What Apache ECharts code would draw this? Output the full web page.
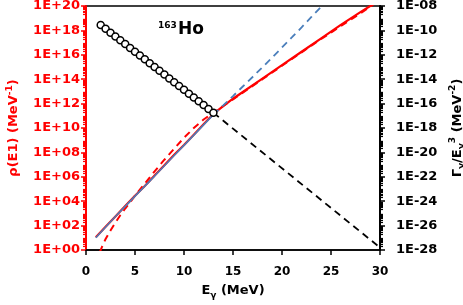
<!DOCTYPE html>
<html><head><meta charset="utf-8">
<script src="https://cdn.jsdelivr.net/npm/echarts@6/dist/echarts.min.js"></script>
<style>html,body{margin:0;padding:0;background:#fff}#c{width:463px;height:305px}</style>
</head><body><div id="c"></div>
<script>
// x: E_gamma (MeV); values are log10 of the plotted quantity
const redSolidE   = [1, 2, 3, 4, 5, 6, 7, 8, 9, 10, 11, 12, 13, 14, 15, 16, 18, 20, 22, 24, 26, 28, 29.2];
const redSolidLog = [1.05, 1.9, 2.75, 3.6, 4.45, 5.25, 6.1, 6.95, 7.8, 8.6, 9.45, 10.3, 11.15, 11.8, 12.4, 12.95, 14.05, 15.15, 16.25, 17.35, 18.45, 19.5, 20.1];

const blueSolidE   = [1, 2, 3, 4, 5, 6, 7, 8, 9, 10, 11, 12, 13];
const blueSolidLog = [1.0, 1.88, 2.74, 3.58, 4.42, 5.24, 6.06, 6.9, 7.74, 8.58, 9.42, 10.26, 11.1];

const blueDashE   = [13, 14, 15, 16, 17, 18, 19, 20, 21, 22, 23, 24, 25];
const blueDashLog = [11.1, 11.85, 12.62, 13.4, 14.18, 14.98, 15.78, 16.6, 17.42, 18.25, 19.1, 19.95, 20.8];

const redDashE   = [1.4, 1.6, 2, 2.5, 3, 3.5, 4, 4.5, 5, 6, 7, 8, 9, 10, 11, 12, 13, 14, 15, 16, 18, 20, 22, 24, 26, 28, 29, 30];
const redDashLog = [-0.2, 0.2, 0.9, 1.6, 2.25, 2.85, 3.4, 3.9, 4.45, 5.45, 6.45, 7.4, 8.3, 9.2, 10.0, 10.7, 11.25, 11.8, 12.35, 12.9, 14.0, 15.1, 16.2, 17.3, 18.35, 19.4, 19.95, 20.5];

// right axis (Gamma/E^3), log10
const circleE   = [1.5, 2, 2.5, 3, 3.5, 4, 4.5, 5, 5.5, 6, 6.5, 7, 7.5, 8, 8.5, 9, 9.5, 10, 10.5, 11, 11.5, 12, 12.5, 13];
const circleLog = [-9.56, -9.87, -10.19, -10.5, -10.81, -11.12, -11.44, -11.75, -12.06, -12.37, -12.69, -13.0, -13.31, -13.62, -13.94, -14.25, -14.56, -14.87, -15.19, -15.5, -15.81, -16.12, -16.44, -16.75];

const blackDashE   = [13, 30];
const blackDashLog = [-16.75, -27.8];

const xTicks = [0, 5, 10, 15, 20, 25, 30];

const zip = (a, b) => a.map((v, i) => [v, b[i]]);
const FONT = 'DejaVu Sans';
const pad = n => String(Math.round(n)).padStart(2, '0');

function minorTicks(lo, hi) {
  const out = [];
  for (let n = lo; n < hi; n++) for (let k = 2; k <= 9; k++) out.push(n + Math.log10(k));
  return out;
}

const chart = echarts.init(document.getElementById('c'), null, {renderer: 'canvas'});
const richBase = (color) => ({
  n: {fontFamily: FONT, fontWeight: 'bold', fontSize: 13, color: color, lineHeight: 18},
  s: {fontFamily: FONT, fontWeight: 'bold', fontSize: 9, color: color, lineHeight: 18, verticalAlign: 'bottom'},
  p: {fontFamily: FONT, fontWeight: 'bold', fontSize: 9, color: color, lineHeight: 18, verticalAlign: 'top'}
});

chart.setOption({
  animation: false,
  backgroundColor: '#fff',
  grid: {left: 86, right: 83, top: 6, bottom: 55, show: true, borderColor: '#000', borderWidth: 1.5,
    containLabel: false, outerBoundsMode: 'none'},
  xAxis: {
    type: 'value', min: 0, max: 30, interval: 5,
    axisLine: {lineStyle: {color: '#000', width: 1.5}},
    axisTick: {show: true, length: 5, lineStyle: {color: '#000', width: 1.5}, customValues: xTicks},
    splitLine: {show: false},
    axisLabel: {color: '#000', fontFamily: FONT, fontWeight: 'bold', fontSize: 12, margin: 16, customValues: xTicks},
    name: '{n|E}{s|γ}{n| (MeV)}', nameLocation: 'middle', nameGap: 32,
    nameTextStyle: {rich: richBase('#000')}
  },
  yAxis: [
    {
      type: 'value', min: 0, max: 20, interval: 2, position: 'left',
      axisLine: {show: true, lineStyle: {color: '#ff0000', width: 2}},
      axisTick: {show: true, length: 5, lineStyle: {color: '#ff0000', width: 1.5}},
      splitLine: {show: false},
      axisLabel: {color: '#ff0000', fontFamily: FONT, fontWeight: 'bold', fontSize: 13, margin: 6,
        formatter: v => '1E+' + pad(v)},
      name: '{n|ρ(E1) (MeV}{p|-1}{n|)}', nameLocation: 'middle', nameRotate: 90, nameGap: 63,
      nameTextStyle: {rich: richBase('#ff0000')}
    },
    {
      type: 'value', min: -28, max: -8, interval: 2, position: 'right',
      axisLine: {show: true, lineStyle: {color: '#000', width: 2}},
      axisTick: {show: true, length: 5, lineStyle: {color: '#000', width: 1.5}},
      splitLine: {show: false},
      axisLabel: {color: '#000', fontFamily: FONT, fontWeight: 'bold', fontSize: 13, margin: 16,
        formatter: v => '1E-' + pad(-v)},
      name: '{n|Γ}{s|γ}{n|/E}{s|γ}{p|3}{n| (MeV}{p|-2}{n|)}', nameLocation: 'middle', nameRotate: 90, nameGap: 60,
      nameTextStyle: {rich: richBase('#000')}
    },
    {
      type: 'value', min: 0, max: 20, position: 'left', offset: 0,
      axisLine: {show: false}, splitLine: {show: false}, axisLabel: {show: false},
      axisTick: {show: true, length: 3, lineStyle: {color: '#ff0000', width: 1.2}, customValues: minorTicks(0, 20)}
    },
    {
      type: 'value', min: -28, max: -8, position: 'right', offset: 0,
      axisLine: {show: false}, splitLine: {show: false}, axisLabel: {show: false},
      axisTick: {show: true, length: 3, lineStyle: {color: '#000', width: 1.2}, customValues: minorTicks(-28, -8)}
    }
  ],
  series: [
    {type: 'line', yAxisIndex: 0, data: zip(redSolidE, redSolidLog), showSymbol: false, symbol: 'none',
      lineStyle: {color: '#ff0000', width: 2.2}, z: 3},
    {type: 'line', yAxisIndex: 0, data: zip(redDashE, redDashLog), showSymbol: false, symbol: 'none',
      lineStyle: {color: '#ff0000', width: 2, type: [7, 5]}, z: 4},
    {type: 'line', yAxisIndex: 0, data: zip(blueSolidE, blueSolidLog), showSymbol: false, symbol: 'none',
      lineStyle: {color: '#4a7ebb', width: 1.6}, z: 5},
    {type: 'line', yAxisIndex: 0, data: zip(blueDashE, blueDashLog), showSymbol: false, symbol: 'none',
      lineStyle: {color: '#4a7ebb', width: 1.8, type: [7, 5]}, z: 5},
    {type: 'line', yAxisIndex: 1, data: zip(blackDashE, blackDashLog), showSymbol: false, symbol: 'none',
      lineStyle: {color: '#000', width: 1.8, type: [7, 5]}, z: 5},
    {type: 'scatter', yAxisIndex: 1, data: zip(circleE, circleLog), symbol: 'circle', symbolSize: 7,
      itemStyle: {color: '#fff', borderColor: '#000', borderWidth: 1.5, opacity: 1}, z: 6}
  ],
  graphic: [
    {type: 'text', left: 158, top: 21, style: {text: '163', fontFamily: FONT, fontWeight: 'bold', fontSize: 9, fill: '#000'}},
    {type: 'text', left: 178, top: 21, style: {text: 'Ho', fontFamily: FONT, fontWeight: 'bold', fontSize: 17, fill: '#000'}}
  ]
});
</script>
</body></html>
